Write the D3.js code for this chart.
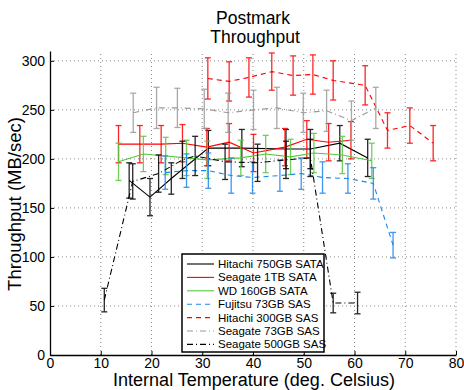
<!DOCTYPE html>
<meta charset="utf-8">
<style>
  body { margin: 0; background: #fff; }
  * { font-family: 'Liberation Sans', Arial, sans-serif; }
</style>
<svg width="464" height="390"></svg>
<script src="https://d3js.org/d3.v7.min.js"></script>
<script>
// temperature (deg C), mean throughput (MB/sec), error bar half-length
var hitachi750Temp = [15.6, 19.7, 23.9, 31.2, 37.8, 46.5, 51.3, 57.1, 62.6];
var hitachi750Mean = [178, 161, 180, 211, 211, 210, 210, 216, 201];
var hitachi750Err  = [18, 19, 16, 18, 19, 20, 20, 18, 19];

var seagate1tbTemp = [13.5, 17.7, 21.9, 26.1, 30.9, 35.3, 40.1, 46.3, 50.6, 54.9, 59.3];
var seagate1tbMean = [215, 215, 215, 216, 212, 217, 206, 212, 220, 217, 219];
var seagate1tbErr  = [19, 19, 19, 19, 19, 19, 19, 19, 19, 19, 19];

var wd160Temp = [13.5, 18.4, 22.8, 26.9, 31.0, 37.6, 42.5, 47.4, 52.0, 57.6, 63.4];
var wd160Mean = [197, 205, 203, 201, 199, 201, 205, 202, 206, 204, 198];
var wd160Err  = [19, 18, 19, 18, 19, 18, 19, 18, 20, 19, 18];

var fujitsu73Temp = [22.7, 26.9, 31.2, 35.7, 39.9, 45.3, 49.5, 53.7, 58.7, 63.7, 67.6];
var fujitsu73Mean = [186, 188, 188, 183, 181, 183, 185, 181, 180, 175, 112];
var fujitsu73Err  = [17, 17, 18, 18, 16, 16, 16, 16, 15, 16, 13];

var hitachi300Temp = [31.1, 35.3, 39.2, 43.7, 47.9, 51.8, 55.8, 62.1, 66.5, 70.9, 75.5];
var hitachi300Mean = [282, 279, 283, 289, 285, 286, 280, 275, 229, 234, 216];
var hitachi300Err  = [21, 20, 20, 19, 20, 20, 20, 20, 18, 18, 18];

var seagate73Temp = [16.4, 21.0, 25.1, 30.4, 35.1, 40.1, 44.7, 49.9, 54.5, 59.4, 64.2];
var seagate73Mean = [247, 252, 252, 251, 247, 250, 252, 247, 249, 239, 252];
var seagate73Err  = [20, 21, 20, 20, 20, 20, 21, 20, 21, 20, 21];

var seagate500Temp = [10.7, 16.3, 21.4, 26.1, 28.6, 34.5, 40.9, 46.5, 51.3, 55.8, 60.6];
var seagate500Mean = [56, 177, 185, 199, 203, 197, 196, 199, 201, 53, 53];
var seagate500Err  = [12, 18, 19, 19, 20, 18, 19, 19, 19, 10, 11];

var xTicks = [0, 10, 20, 30, 40, 50, 60, 70, 80];
var yTicks = [0, 50, 100, 150, 200, 250, 300];

var series = [
  {name: "Hitachi 750GB SATA", t: hitachi750Temp, m: hitachi750Mean, e: hitachi750Err, color: "#000000", dash: null},
  {name: "Seagate 1TB SATA",   t: seagate1tbTemp, m: seagate1tbMean, e: seagate1tbErr, color: "#ff0000", dash: null},
  {name: "WD 160GB SATA",      t: wd160Temp,      m: wd160Mean,      e: wd160Err,      color: "#55c83f", dash: null},
  {name: "Fujitsu 73GB SAS",   t: fujitsu73Temp,  m: fujitsu73Mean,  e: fujitsu73Err,  color: "#1a86f0", dash: "5,4"},
  {name: "Hitachi 300GB SAS",  t: hitachi300Temp, m: hitachi300Mean, e: hitachi300Err, color: "#ff0000", dash: "5,4"},
  {name: "Seagate 73GB SAS",   t: seagate73Temp,  m: seagate73Mean,  e: seagate73Err,  color: "#9a9a9a", dash: "6,3,1,3"},
  {name: "Seagate 500GB SAS",  t: seagate500Temp, m: seagate500Mean, e: seagate500Err, color: "#000000", dash: "6,3,1,3"}
];

var svg = d3.select("svg");

var x = d3.scaleLinear().domain([0, 80]).range([50, 456]);
var y = d3.scaleLinear().domain([0, 310]).range([355, 51]);

// dotted grid
svg.append("g").selectAll("line").data(xTicks.slice(1)).join("line")
    .attr("x1", d => x(d)).attr("x2", d => x(d))
    .attr("y1", y(0)).attr("y2", y(310))
    .attr("stroke", "#888").attr("stroke-width", 1).attr("stroke-dasharray", "1,3");
svg.append("g").selectAll("line").data(yTicks.slice(1)).join("line")
    .attr("x1", x(0)).attr("x2", x(80))
    .attr("y1", d => y(d)).attr("y2", d => y(d))
    .attr("stroke", "#888").attr("stroke-width", 1).attr("stroke-dasharray", "1,3");

var line = d3.line().x(d => x(d[0])).y(d => y(d[1]));

series.forEach(function(s) {
  var pts = s.t.map((t, i) => [t, s.m[i], s.e[i]]);
  var g = svg.append("g");
  g.append("path")
      .datum(pts)
      .attr("fill", "none")
      .attr("stroke", s.color)
      .attr("stroke-width", 1.1)
      .attr("stroke-dasharray", s.dash)
      .attr("d", line);
  var eb = g.selectAll("g.eb").data(pts).join("g")
      .attr("stroke", s.color).attr("stroke-width", 1.3).attr("opacity", 0.85);
  eb.append("line")
      .attr("x1", d => x(d[0])).attr("x2", d => x(d[0]))
      .attr("y1", d => y(d[1] - d[2])).attr("y2", d => y(d[1] + d[2]));
  eb.append("line")
      .attr("x1", d => x(d[0]) - 3).attr("x2", d => x(d[0]) + 3)
      .attr("y1", d => y(d[1] + d[2])).attr("y2", d => y(d[1] + d[2]));
  eb.append("line")
      .attr("x1", d => x(d[0]) - 3).attr("x2", d => x(d[0]) + 3)
      .attr("y1", d => y(d[1] - d[2])).attr("y2", d => y(d[1] - d[2]));
});

// axes
var xAxis = svg.append("g")
    .attr("transform", "translate(0," + y(0) + ")")
    .call(d3.axisBottom(x).tickValues(xTicks).tickSizeInner(-4).tickSizeOuter(0).tickPadding(3));
var yAxis = svg.append("g")
    .attr("transform", "translate(" + x(0) + ",0)")
    .call(d3.axisLeft(y).tickValues(yTicks).tickSizeInner(-4).tickSizeOuter(0).tickPadding(5));
[xAxis, yAxis].forEach(function(a) {
  a.select(".domain").attr("stroke", "#000").attr("stroke-width", 1.3);
  a.selectAll("text").attr("font-size", 14).attr("fill", "#000")
      .attr("font-family", "'Liberation Sans', Arial, sans-serif");
});

// title and labels
svg.append("text").attr("x", 253).attr("y", 24).attr("text-anchor", "middle")
    .attr("font-size", 17.5).text("Postmark");
svg.append("text").attr("x", 255).attr("y", 43).attr("text-anchor", "middle")
    .attr("font-size", 17.5).text("Throughput");
svg.append("text").attr("x", 254).attr("y", 386).attr("text-anchor", "middle")
    .attr("font-size", 18).text("Internal Temperature (deg. Celsius)");
svg.append("text").attr("transform", "translate(21,204) rotate(-90)")
    .attr("text-anchor", "middle").attr("font-size", 18.5).text("Throughput (MB/sec)");

// legend
var lg = svg.append("g").attr("transform", "translate(182,254)");
lg.append("rect").attr("width", 142).attr("height", 98)
    .attr("fill", "#fff").attr("stroke", "#000").attr("stroke-width", 1.5);
var row = lg.selectAll("g.row").data(series).join("g")
    .attr("transform", (d, i) => "translate(0," + (10 + i * 13.4) + ")");
row.append("line").attr("x1", 5).attr("x2", 32)
    .attr("stroke", d => d.color).attr("stroke-width", 1.1)
    .attr("stroke-dasharray", d => d.dash);
row.append("text").attr("x", 36).attr("dy", "0.35em")
    .attr("font-size", 11.5).text(d => d.name);
</script>
